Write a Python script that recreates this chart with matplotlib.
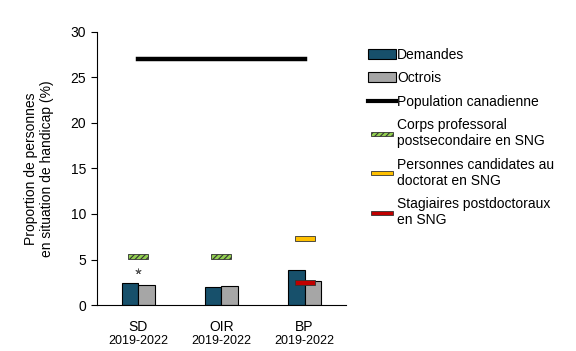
import matplotlib.pyplot as plt
from matplotlib.patches import Patch, Rectangle
from matplotlib.lines import Line2D
from matplotlib.legend_handler import HandlerPatch
import numpy as np

plt.rcParams['font.family'] = ['Liberation Sans', 'DejaVu Sans']
plt.rcParams['hatch.color'] = '#4a7a1a'
plt.rcParams['hatch.linewidth'] = 0.8

categories = ['SD', 'OIR', 'BP']
periods = ['2019-2022', '2019-2022', '2019-2022']
demandes = [2.4, 2.0, 3.9]
octrois = [2.2, 2.1, 2.6]
population = 27.0
corps_prof = [5.3, 5.3, np.nan]
candidats = [np.nan, np.nan, 7.3]
stagiaires = [np.nan, np.nan, 2.5]
star_pos = [3.7, np.nan, np.nan]

c_dem = '#17506b'
c_oct = '#a6a6a6'
c_corps = '#92d050'
c_cand = '#ffc000'
c_stag = '#c00000'

fig = plt.figure(figsize=(5.76, 3.51), dpi=100)
ax = fig.add_axes([0.168, 0.131, 0.433, 0.778])

x = np.arange(len(categories))
w = 0.2
ax.bar(x - w / 2, demandes, w, color=c_dem, edgecolor='black', linewidth=0.8, zorder=2)
ax.bar(x + w / 2, octrois, w, color=c_oct, edgecolor='black', linewidth=0.8, zorder=2)

ax.plot([x[0], x[-1]], [population, population], color='black', lw=3.2, zorder=3)

h = 0.5
mw = 0.24
def seg(vals, color, hatch=None):
    vals = np.array(vals, dtype=float)
    ok = ~np.isnan(vals)
    ax.bar(x[ok], h, mw, bottom=vals[ok] - h / 2, color=color, edgecolor='#333333',
           linewidth=0.6, hatch=hatch, zorder=4)

seg(corps_prof, c_corps, hatch='//////')
seg(candidats, c_cand)
seg(stagiaires, c_stag)

sp = np.array(star_pos, dtype=float)
ok = ~np.isnan(sp)
ax.scatter(x[ok], sp[ok], marker=(5, 2, 0), s=14, color='#555555', linewidths=0.6, zorder=5)

ax.set_xlim(-0.5, 2.5)
ax.set_ylim(0, 30)
ax.set_yticks(range(0, 31, 5))
ax.tick_params(axis='y', labelsize=10, length=4, width=0.8, direction='out')
ax.set_xticks(x)
ax.set_xticklabels([])
ax.tick_params(axis='x', length=0)
for xi, c, p in zip(x, categories, periods):
    ax.annotate(c, (xi, 0), xytext=(0, -11), textcoords='offset points',
                ha='center', va='top', fontsize=10, annotation_clip=False)
    ax.annotate(p, (xi, 0), xytext=(0, -21.5), textcoords='offset points',
                ha='center', va='top', fontsize=9, annotation_clip=False)
for s in ['top', 'right']:
    ax.spines[s].set_visible(False)
ax.spines['left'].set_linewidth(0.8)
ax.spines['bottom'].set_linewidth(0.8)
ax.set_ylabel('Proportion de personnes\nen situation de handicap (%)', fontsize=10, labelpad=12)


def thin_patch(legend, orig_handle, xdescent, ydescent, width, height, fontsize):
    return Rectangle((-xdescent + width * 0.12, -ydescent + height * 0.3),
                     width * 0.8, height * 0.4)

handles = [
    Patch(facecolor=c_dem, edgecolor='black', linewidth=0.8),
    Patch(facecolor=c_oct, edgecolor='black', linewidth=0.8),
    Line2D([0], [0], color='black', lw=3),
    Patch(facecolor=c_corps, edgecolor='#333333', linewidth=0.6, hatch='//////'),
    Patch(facecolor=c_cand, edgecolor='#333333', linewidth=0.6),
    Patch(facecolor=c_stag, edgecolor='#333333', linewidth=0.6),
]
labels = ['Demandes', 'Octrois', 'Population canadienne',
          'Corps professoral\npostsecondaire en SNG',
          'Personnes candidates au\ndoctorat en SNG',
          'Stagiaires postdoctoraux\nen SNG']
hm = {hd: HandlerPatch(patch_func=thin_patch) for hd in handles[3:]}
fig.legend(handles, labels, loc='upper left', bbox_to_anchor=(0.629, 0.88),
           frameon=False, fontsize=10, handlelength=2.0, handleheight=0.75,
           handletextpad=0.1, labelspacing=0.68, borderaxespad=0, handler_map=hm)

fig.savefig('out.png', dpi=100)
